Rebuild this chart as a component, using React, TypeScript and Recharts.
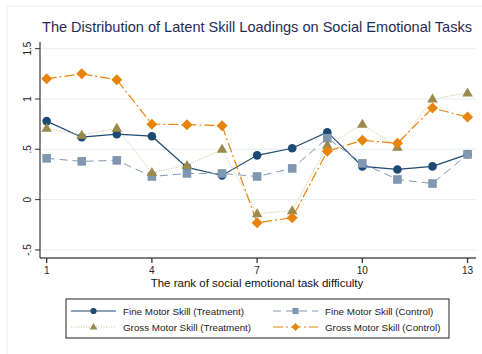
import { LineChart, Line, XAxis, YAxis, CartesianGrid } from 'recharts'

const RANKS = [1, 2, 3, 4, 5, 6, 7, 8, 9, 10, 11, 12, 13]
const FINE_TREATMENT = [0.78, 0.62, 0.65, 0.63, 0.32, 0.24, 0.44, 0.51, 0.67, 0.33, 0.3, 0.33, 0.45]
const FINE_CONTROL = [0.41, 0.38, 0.39, 0.23, 0.26, 0.26, 0.23, 0.31, 0.61, 0.36, 0.2, 0.16, 0.45]
const GROSS_TREATMENT = [0.71, 0.64, 0.71, 0.27, 0.34, 0.5, -0.14, -0.11, 0.54, 0.75, 0.52, 1.0, 1.06]
const GROSS_CONTROL = [1.2, 1.25, 1.19, 0.75, 0.745, 0.735, -0.23, -0.18, 0.48, 0.59, 0.56, 0.91, 0.82]

const X_TICKS = [1, 4, 7, 10, 13]
const Y_TICKS = [-0.5, 0, 0.5, 1, 1.5]
const Y_LABELS: Record<string, string> = { '-0.5': '-.5', '0': '0', '0.5': '.5', '1': '1', '1.5': '1.5' }

const NAVY = '#1d4a73'
const STEEL = '#7f97b1'
const OLIVE = '#9b8a4b'
const ORANGE = '#e8840c'
const FONT = '"Liberation Sans", Arial, sans-serif'

const chartData = RANKS.map((rank, i) => ({
  rank,
  fineT: FINE_TREATMENT[i],
  fineC: FINE_CONTROL[i],
  grossT: GROSS_TREATMENT[i],
  grossC: GROSS_CONTROL[i],
}))

function Circle({ cx, cy, s = 1 }: any) {
  return <circle cx={cx} cy={cy} r={4.3 * s} fill={NAVY} />
}
function Square({ cx, cy, s = 1 }: any) {
  const h = 4.3 * s
  return <rect x={cx - h} y={cy - h} width={2 * h} height={2 * h} fill={STEEL} />
}
function Triangle({ cx, cy, s = 1 }: any) {
  return (
    <polygon
      points={`${cx},${cy - 5.5 * s} ${cx - 5.3 * s},${cy + 3.5 * s} ${cx + 5.3 * s},${cy + 3.5 * s}`}
      fill={OLIVE}
    />
  )
}
function Diamond({ cx, cy, s = 1 }: any) {
  const h = 5.5 * s
  return <polygon points={`${cx},${cy - h} ${cx + h},${cy} ${cx},${cy + h} ${cx - h},${cy}`} fill={ORANGE} />
}

const dotOf = (Shape: any) => (props: any) => <Shape key={`d-${props.index}`} cx={props.cx} cy={props.cy} />

function YTick({ x, y, payload }: any) {
  return (
    <text x={x - 2} y={y} transform={`rotate(-90 ${x - 2} ${y})`} textAnchor="middle" fontSize={10} fill="#222" fontFamily={FONT}>
      {Y_LABELS[String(payload.value)]}
    </text>
  )
}

function XTick({ x, y, payload }: any) {
  return (
    <text x={x} y={y + 9} textAnchor="middle" fontSize={10} fill="#222" fontFamily={FONT}>
      {payload.value}
    </text>
  )
}

const LEGEND = [
  { label: 'Fine Motor Skill (Treatment)', color: NAVY, dash: undefined, shape: Circle, col: 0, row: 0, w: 1.2 },
  { label: 'Fine Motor Skill (Control)', color: STEEL, dash: '8 5', shape: Square, col: 1, row: 0, w: 1 },
  { label: 'Gross Motor Skill (Treatment)', color: '#c9bc94', dash: '1 1.5', shape: Triangle, col: 0, row: 1, w: 1 },
  { label: 'Gross Motor Skill (Control)', color: ORANGE, dash: '10 3 2 3', shape: Diamond, col: 1, row: 1, w: 1.2 },
]

export default function App() {
  return (
    <div style={{ position: 'relative', width: 482, height: 354, background: '#fff' }}>
      <style>{`body{margin:0}`}</style>
      <LineChart
        width={482}
        height={354}
        data={chartData}
        margin={{ top: 42, right: 6, bottom: 66, left: 8 }}
      >
        <CartesianGrid horizontal vertical={false} stroke="#e6eff2" horizontalValues={Y_TICKS} />
        <XAxis
          dataKey="rank"
          type="number"
          domain={[0.81, 13.24]}
          ticks={X_TICKS}
          allowDataOverflow
          height={30}
          stroke="#555"
          strokeWidth={1.3}
          tickSize={5}
          tickLine={{ stroke: '#333' }}
          tick={<XTick />}
        />
        <YAxis
          type="number"
          domain={[-0.58, 1.566]}
          ticks={Y_TICKS}
          allowDataOverflow
          width={32}
          stroke="#111"
          tickSize={5}
          tickLine={{ stroke: '#333' }}
          tick={<YTick />}
        />
        <Line dataKey="fineT" stroke={NAVY} strokeWidth={1.2} dot={dotOf(Circle)} activeDot={false} isAnimationActive={false} />
        <Line dataKey="fineC" stroke={STEEL} strokeWidth={1} strokeDasharray="8 5" dot={dotOf(Square)} activeDot={false} isAnimationActive={false} />
        <Line dataKey="grossT" stroke="#c9bc94" strokeWidth={1} strokeDasharray="1 1.5" dot={dotOf(Triangle)} activeDot={false} isAnimationActive={false} />
        <Line dataKey="grossC" stroke={ORANGE} strokeWidth={1.2} strokeDasharray="10 3 2 3" dot={dotOf(Diamond)} activeDot={false} isAnimationActive={false} />
      </LineChart>
      <svg width={482} height={354} style={{ position: 'absolute', left: 0, top: 0, pointerEvents: 'none' }}>
        <rect x={7} y={6} width={480} height={360} fill="none" stroke="#e9f0f3" />
        <text x={257} y={32} textAnchor="middle" fontSize={14.5} fill="#1e2d55" fontFamily={FONT} textLength={430} lengthAdjust="spacingAndGlyphs">
          The Distribution of Latent Skill Loadings on Social Emotional Tasks
        </text>
        <text x={257} y={287} textAnchor="middle" fontSize={11.5} fill="#111" fontFamily={FONT}>
          The rank of social emotional task difficulty
        </text>
        <rect x={66} y={299} width={383} height={39} fill="#fff" stroke="#222" strokeWidth={1} />
        {LEGEND.map((item) => {
          const x0 = item.col === 0 ? 71 : 273
          const y0 = item.row === 0 ? 311 : 327
          const Shape = item.shape
          return (
            <g key={item.label}>
              <line x1={x0} y1={y0} x2={x0 + 45} y2={y0} stroke={item.color} strokeWidth={item.w} strokeDasharray={item.dash} />
              <Shape cx={x0 + 22.5} cy={y0} s={0.72} />
              <text x={x0 + 52} y={y0 + 3.5} fontSize={9.8} fill="#222" fontFamily={FONT}>
                {item.label}
              </text>
            </g>
          )
        })}
      </svg>
    </div>
  )
}
